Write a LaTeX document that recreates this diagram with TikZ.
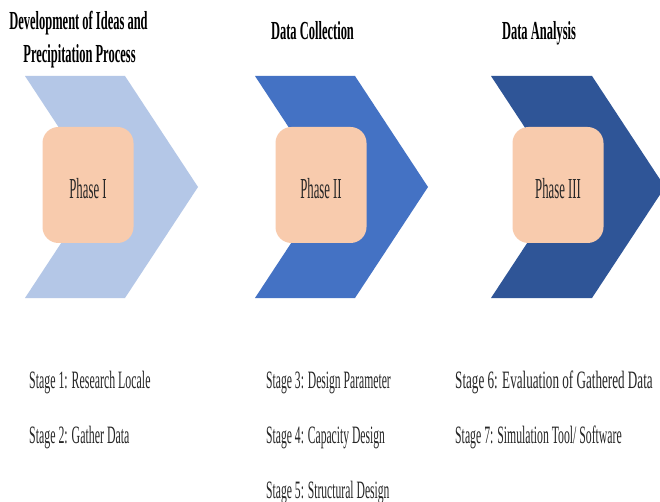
\documentclass[tikz,border=0pt]{standalone}
\usepackage{fontspec}
\setmainfont{Liberation Serif}
\usepackage{graphicx}
\definecolor{chevA}{HTML}{B4C7E7}
\definecolor{chevB}{HTML}{4472C4}
\definecolor{chevC}{HTML}{2F5597}
\definecolor{peach}{HTML}{F8CBAD}
\newcommand{\sqz}[2]{\scalebox{#1}[1]{#2}}
\begin{document}
\begin{tikzpicture}[x=1pt,y=-1pt,
  title/.style={font=\fontsize{26}{26}\selectfont\bfseries, inner sep=0pt, anchor=base, text=black},
  phasebox/.style={fill=peach, rounded corners=16pt, minimum width=91pt, minimum height=116pt, inner sep=0pt, font=\fontsize{29}{29}\selectfont, text height=28pt, text=black!85},
  stage/.style={font=\fontsize{25}{25}\selectfont, inner sep=0pt, anchor=base west, text=black!85}]
\useasboundingbox (0,0) rectangle (660,502);
\fill[white] (0,0) rectangle (660,502);
\begin{scope}
\clip (0,0) rectangle (660,502);
\fill[chevA] (25,76) -- (125,76) -- (198,187) -- (125,298) -- (25,298) -- (98,187) -- cycle;
\fill[chevB] (255,76) -- (355,76) -- (428,187) -- (355,298) -- (255,298) -- (328,187) -- cycle;
\fill[chevC] (491,76) -- (592,76) -- (665,187) -- (592,298) -- (491,298) -- (564,187) -- cycle;
\end{scope}
\node[phasebox] (p1) at (88,185) {\sqz{0.44}{Phase I}};
\node[phasebox] (p2) at (321,185) {\sqz{0.44}{Phase II}};
\node[phasebox] (p3) at (558,185) {\sqz{0.44}{Phase III}};
\node[title] (t1a) at (78.5,29.3) {\sqz{0.48}{Development of Ideas and}};
\node[title] (t1b) at (79.5,63) {\sqz{0.48}{Precipitation Process}};
\node[title] (t2) at (312.5,39.5) {\sqz{0.48}{Data Collection}};
\node[title] (t3) at (539,40) {\sqz{0.48}{Data Analysis}};
\node[stage] (s1) at (29,388) {\sqz{0.475}{Stage 1: Research Locale}};
\node[stage] (s2) at (29,443) {\sqz{0.475}{Stage 2: Gather Data}};
\node[stage] (s3) at (266,388) {\sqz{0.465}{Stage 3: Design Parameter}};
\node[stage] (s4) at (266,443) {\sqz{0.465}{Stage 4: Capacity Design}};
\node[stage] (s5) at (266,498) {\sqz{0.465}{Stage 5: Structural Design}};
\node[stage] (s6) at (455,388) {\sqz{0.525}{Stage 6: Evaluation of Gathered Data}};
\node[stage] (s7) at (455,443) {\sqz{0.47}{Stage 7: Simulation Tool/ Software}};
\end{tikzpicture}
\end{document}
